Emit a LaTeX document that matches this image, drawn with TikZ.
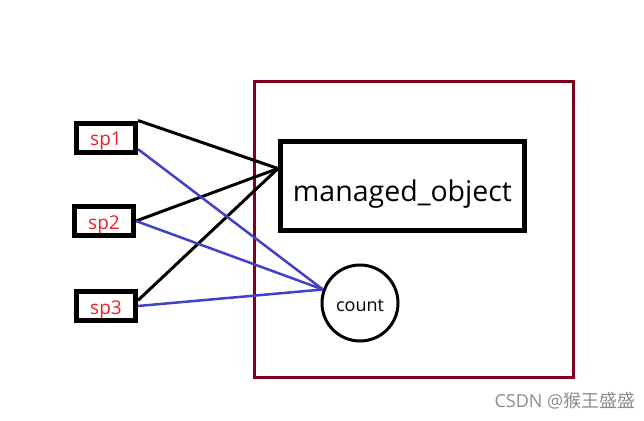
\documentclass[tikz,border=0pt]{standalone}
\usepackage{fontspec}
\setmainfont{Open Sans}
\newfontfamily\cjkfont{Noto Sans CJK SC}
\definecolor{framered}{RGB}{128,0,32}
\definecolor{linkblue}{RGB}{64,64,200}
\definecolor{spred}{RGB}{240,30,40}
\begin{document}
\begin{tikzpicture}[x=1pt,y=-1pt,
        spbox/.style={draw,line width=5pt,minimum width=59pt,minimum height=29pt,inner sep=0pt,text=spred,font=\fontsize{19}{19}\selectfont,text height=20pt,text depth=4pt},
        objbox/.style={draw,line width=5pt,minimum width=244pt,minimum height=89pt,inner sep=0pt,font=\fontsize{28.5}{28.5}\selectfont,text height=36pt,text depth=6pt},
        cntcircle/.style={circle,draw,line width=3pt,minimum size=76pt,inner sep=0pt,font=\fontsize{18}{18}\selectfont,text height=18pt,text depth=2pt},
        blackline/.style={line width=3pt},
        blueline/.style={linkblue,line width=2.5pt}]
        \useasboundingbox (0,0) rectangle (644,420);
        \draw[framered,line width=3pt] (254.5,81.5) rectangle (573.5,377.5);
        \node[spbox] (sp1) at (106,137.5) {sp1};
        \node[spbox] (sp2) at (104,221) {sp2};
        \node[spbox] (sp3) at (106,306) {sp3};
        \node[objbox] (mo) at (402.5,186) {managed\_object};
        \node[cntcircle] (cnt) at (360,303) {count};
        % references to the shared object
        \draw[blackline] (sp1.north east) -- (mo.172);
        \draw[blackline] (sp2.east) -- (mo.172);
        \draw[blackline] (sp3.10) -- (mo.172);
        \draw[blueline] (sp1.-20) -- (cnt.160);
        \draw[blueline] (sp2.east) -- (cnt.160);
        \draw[blueline] (sp3.east) -- (cnt.160);
        \node[text=black!45,font=\fontsize{18}{18}\selectfont] (mark) at (565,401) {CSDN @{\cjkfont 猴王盛盛}};
\end{tikzpicture}
\end{document}
